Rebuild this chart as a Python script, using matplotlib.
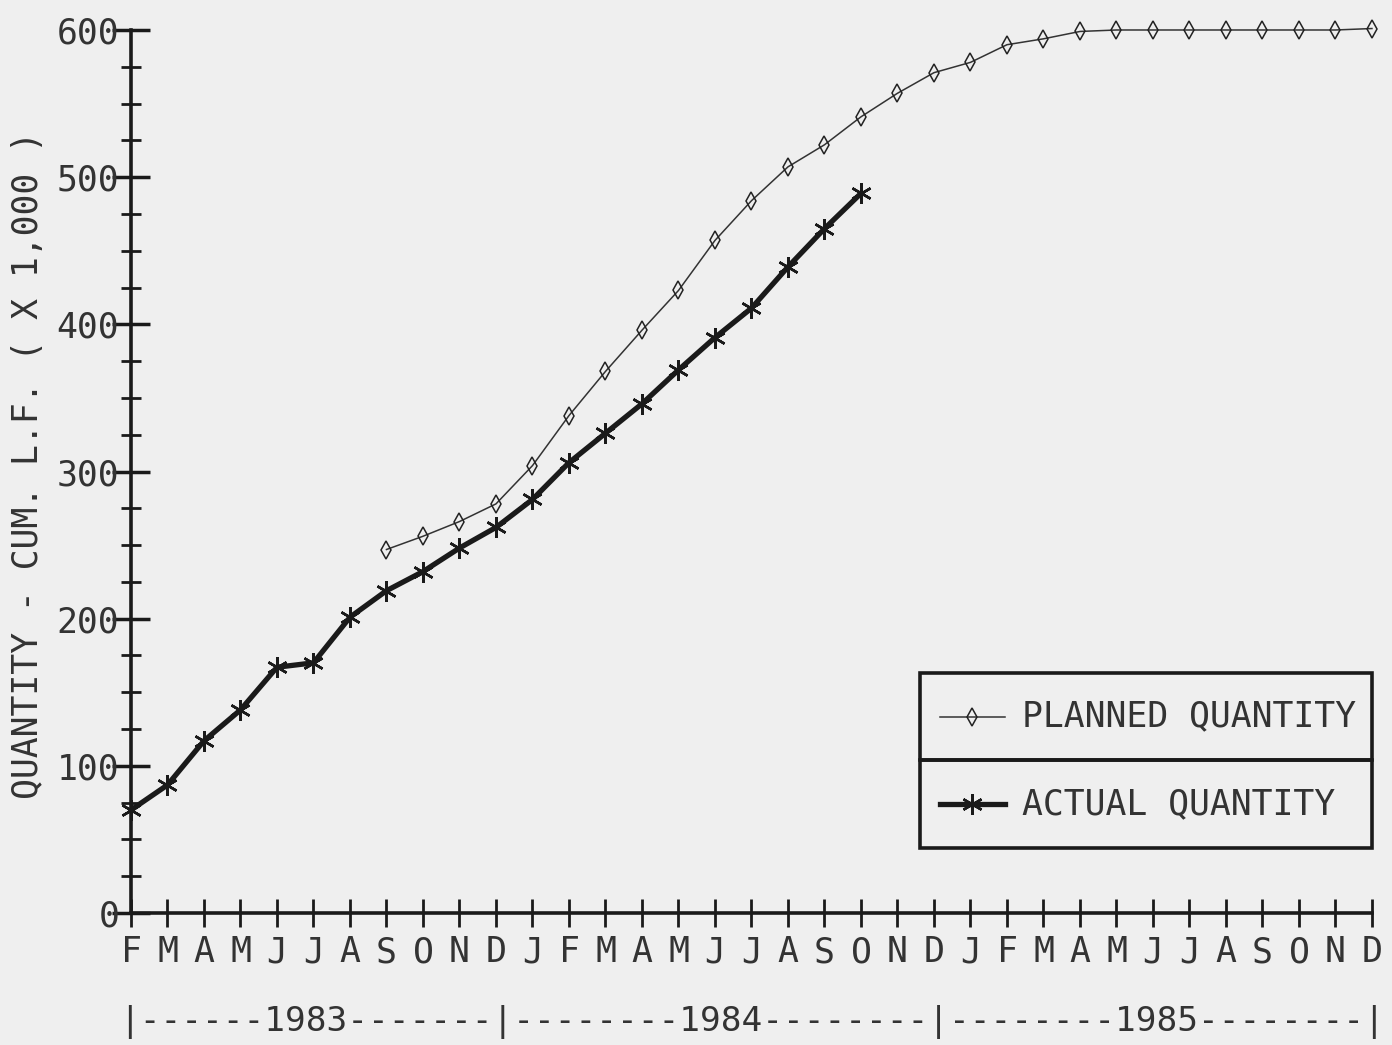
import matplotlib.pyplot as plt
import numpy as np
from matplotlib.patches import Rectangle
from matplotlib.lines import Line2D

# months Feb 1983 .. Dec 1985
months = list("FMAMJJASOND" + "JFMAMJJASOND" + "JFMAMJJASOND")

# actual quantity, F 1983 .. O 1984
actual = [70, 87, 117, 138, 167, 170, 201, 219, 232, 248, 262,
          281, 306, 326, 346, 369, 391, 411, 439, 465, 489]

# planned quantity, S 1983 .. D 1985
planned_start = 7
planned = [247, 256, 266, 278,
           304, 338, 368, 396, 423, 457, 484, 507, 522, 541, 557, 571,
           578, 590, 594, 599, 600, 600, 600, 600, 600, 600, 600, 601]

year_line = "|------1983-------|--------1984--------|--------1985--------|"
ylabel = "QUANTITY - CUM. L.F. ( X 1,000 )"

bg = '#efefef'
ink = '#1a1a1a'
plt.rcParams['font.family'] = ['DejaVu Sans Mono']

fig = plt.figure(figsize=(13.92, 10.45), dpi=100, facecolor=bg)
ax = fig.add_axes([0.0941, 0.1263, 0.8915, 0.845])
ax.set_facecolor(bg)

x_act = np.arange(len(actual))
x_plan = np.arange(planned_start, planned_start + len(planned))

ax.plot(x_plan, planned, color='#333333', lw=1.1, marker='d', ms=9,
        mfc='none', mec='#222222', mew=1.1, clip_on=False, zorder=3)
ax.plot(x_act, actual, color=ink, lw=3.8, marker=(6, 2, 0), ms=15,
        mew=1.8, mec=ink, clip_on=False, zorder=4)

ax.set_xlim(0, 34)
ax.set_ylim(0, 600)
for s in ['top', 'right']:
    ax.spines[s].set_visible(False)
for s in ['left', 'bottom']:
    ax.spines[s].set_linewidth(2.6)
    ax.spines[s].set_color(ink)

ax.set_xticks(range(len(months)))
ax.set_xticklabels(months)
ax.set_yticks(range(0, 601, 100))
ax.set_yticks(range(0, 601, 25), minor=True)
ax.tick_params(axis='x', direction='inout', length=20, width=2, colors=ink,
               labelsize=25, pad=6)
ax.tick_params(axis='y', which='major', direction='inout', length=28, width=2.5,
               colors=ink, labelsize=25, pad=-5.5)
ax.tick_params(axis='y', which='minor', direction='inout', length=14, width=2,
               colors=ink)
for lab in ax.get_xticklabels() + ax.get_yticklabels():
    lab.set_color('#333333')

fig.text(0.020, 0.555, ylabel, rotation=90, ha='center', va='center',
         fontsize=25, color='#333333')
fig.text((131 + 1372) / 2 / 1392, 0.022, year_line, ha='center', va='center',
         fontsize=24.75, color='#333333')

# legend: two stacked boxes
x0, x1 = 0.636, 1.0
ytop, ymid, ybot = 0.272, 0.173, 0.074
for ya, yb in [(ymid, ytop), (ybot, ymid)]:
    ax.add_patch(Rectangle((x0, ya), x1 - x0, yb - ya, transform=ax.transAxes,
                           fill=False, lw=2.6, ec=ink, clip_on=False, zorder=5))
yp = (ymid + ytop) / 2
ya_ = (ybot + ymid) / 2
ax.add_line(Line2D([0.652, 0.704], [yp, yp], transform=ax.transAxes, color='#333333',
                   lw=1.1, clip_on=False))
ax.add_line(Line2D([0.678], [yp], transform=ax.transAxes, marker='d', ms=9,
                   mfc='none', mec='#222222', mew=1.1, clip_on=False))
ax.add_line(Line2D([0.652, 0.704], [ya_, ya_], transform=ax.transAxes, color=ink,
                   lw=3.8, clip_on=False))
ax.add_line(Line2D([0.678], [ya_], transform=ax.transAxes, marker=(6, 2, 0), ms=15,
                   mew=1.8, mec=ink, clip_on=False))
ax.text(0.718, yp, "PLANNED QUANTITY", transform=ax.transAxes, va='center',
        ha='left', fontsize=25, color='#333333')
ax.text(0.718, ya_, "ACTUAL QUANTITY", transform=ax.transAxes, va='center',
        ha='left', fontsize=25, color='#333333')

fig.savefig('out.png', dpi=100, facecolor=bg)
